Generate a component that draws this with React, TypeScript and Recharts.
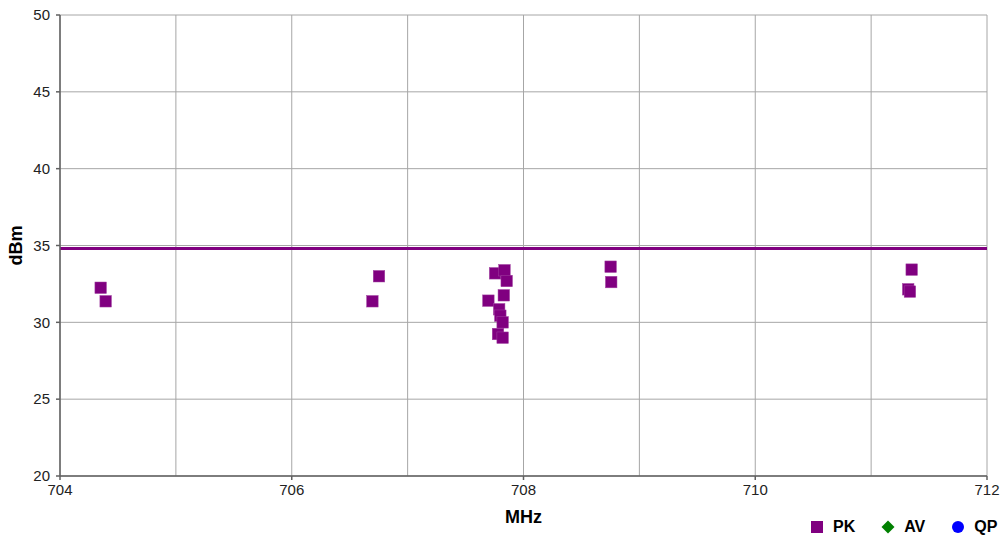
import React from 'react';
import {
  ScatterChart, Scatter, XAxis, YAxis, CartesianGrid, ReferenceLine,
} from 'recharts';

const pkFreq = [
  704.351, 704.394, 706.753, 706.696,
  707.755, 707.836, 707.855, 707.83, 707.697, 707.79, 707.80, 707.82, 707.78, 707.82,
  708.752, 708.757, 711.35, 711.32, 711.335,
];
const pkLevel = [
  32.25, 31.37, 33.0, 31.37,
  33.19, 33.39, 32.69, 31.76, 31.41, 30.85, 30.43, 30.0, 29.24, 29.0,
  33.62, 32.62, 33.43, 32.15, 32.0,
];
const avFreq: number[] = [];
const avLevel: number[] = [];
const qpFreq: number[] = [];
const qpLevel: number[] = [];

const limitLevel = 34.8;
const xTicks = [704, 706, 708, 710, 712];
const xMinorGrid = [705, 707, 709, 711];
const yTicks = [20, 25, 30, 35, 40, 45, 50];
const legendItems = ['PK', 'AV', 'QP'];

const pkData = pkFreq.map((x, i) => ({ x, y: pkLevel[i] }));
const avData = avFreq.map((x, i) => ({ x, y: avLevel[i] }));
const qpData = qpFreq.map((x, i) => ({ x, y: qpLevel[i] }));

const FONT = 'Liberation Sans, Arial, sans-serif';
const GRID = '#a6a6a6';
const AXIS = '#606060';

const SquareMark = (props: any) => {
  const { cx, cy } = props;
  if (cx == null || cy == null) return null;
  return <rect x={cx - 5.75} y={cy - 5.75} width={11.5} height={11.5} fill="#800080" stroke="#a040a0" strokeWidth={0.5} />;
};

function LegendIcon({ name }: { name: string }) {
  if (name === 'PK') {
    return (
      <svg width={14} height={14} style={{ display: 'block' }}>
        <rect x={1} y={1} width={12} height={12} fill="#800080" />
      </svg>
    );
  }
  if (name === 'AV') {
    return (
      <svg width={14} height={14} style={{ display: 'block' }}>
        <polygon points="7,0.5 13.5,7 7,13.5 0.5,7" fill="#008000" />
      </svg>
    );
  }
  return (
    <svg width={14} height={14} style={{ display: 'block' }}>
      <circle cx={7} cy={7} r={6} fill="#0000ff" />
    </svg>
  );
}

export default function App() {
  return (
    <div style={{ position: 'absolute', left: 0, top: 0, width: 1000, height: 535, background: '#fff', fontFamily: FONT }}>
      <ScatterChart width={1000} height={535} margin={{ top: 15, right: 13, bottom: 0, left: 0 }}>
        <CartesianGrid stroke={GRID} strokeWidth={1} />
        {xMinorGrid.map((v) => (
          <ReferenceLine key={v} x={v} stroke={GRID} strokeWidth={1} />
        ))}
        <XAxis
          type="number"
          dataKey="x"
          domain={[704, 712]}
          ticks={xTicks}
          interval={0}
          height={59}
          stroke={AXIS}
          strokeWidth={1.5}
          tickSize={4}
          tickMargin={4}
          tick={{ fill: '#222', fontSize: 15, fontFamily: FONT }}
          label={{ value: 'MHz', position: 'insideBottom', offset: 12, fill: '#000', fontSize: 18, fontWeight: 'bold', fontFamily: FONT }}
        />
        <YAxis
          type="number"
          dataKey="y"
          domain={[20, 50]}
          ticks={yTicks}
          interval={0}
          width={60}
          stroke={AXIS}
          strokeWidth={1.5}
          tickSize={4}
          tickMargin={6}
          tick={{ fill: '#222', fontSize: 15, fontFamily: FONT }}
          label={{
            content: ({ viewBox }: any) => {
              const cy = viewBox.y + viewBox.height / 2;
              return (
                <text
                  x={22}
                  y={cy}
                  transform={`rotate(-90, 22, ${cy})`}
                  textAnchor="middle"
                  fontSize={18}
                  fontWeight="bold"
                  fontFamily={FONT}
                  fill="#000"
                >
                  dBm
                </text>
              );
            },
          }}
        />
        <ReferenceLine y={limitLevel} stroke="#800080" strokeWidth={3} />
        <Scatter name="PK" data={pkData} shape={SquareMark} fill="#800080" isAnimationActive={false} />
        <Scatter name="AV" data={avData} shape="diamond" fill="#008000" isAnimationActive={false} />
        <Scatter name="QP" data={qpData} shape="circle" fill="#0000ff" isAnimationActive={false} />
      </ScatterChart>
      <div style={{ position: 'absolute', left: 810, top: 518, display: 'flex', alignItems: 'center' }}>
        {legendItems.map((name, i) => (
          <div key={name} style={{ display: 'flex', alignItems: 'center', marginLeft: i === 0 ? 0 : 26 }}>
            <LegendIcon name={name} />
            <span style={{ marginLeft: 9, fontSize: 16, fontWeight: 'bold', color: '#000', lineHeight: '18px' }}>{name}</span>
          </div>
        ))}
      </div>
    </div>
  );
}
